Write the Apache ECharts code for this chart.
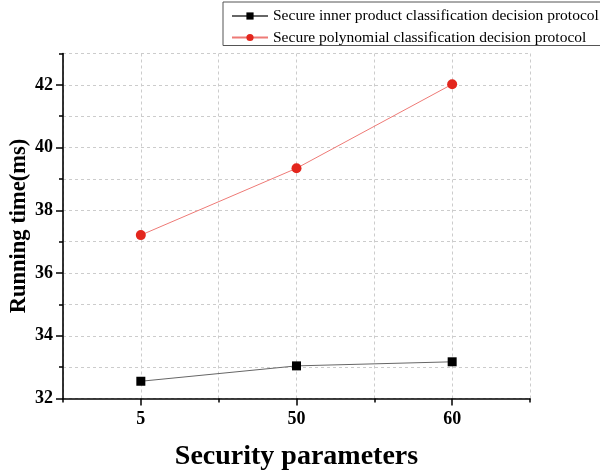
<!DOCTYPE html>
<html>
<head>
<meta charset="utf-8">
<script src="https://cdn.jsdelivr.net/npm/echarts@6/dist/echarts.min.js"></script>
<style>html,body{margin:0;padding:0;background:#fff}#c{width:600px;height:471px}</style>
</head>
<body>
<div id="c"></div>
<script>
var categories = ['5', '50', '60'];
var innerProduct = [32.55, 33.04, 33.17];
var polynomial = [37.21, 39.34, 42.02];
var yLabels = [32, 34, 36, 38, 40, 42];
var seriesNames = ['Secure inner product classification decision protocol', 'Secure polynomial classification decision protocol'];

var serif = '"Liberation Serif", "Times New Roman", serif';
var chart = echarts.init(document.getElementById('c'));
var grid = {left: 63, right: 70, top: 53.5, bottom: 72.5, outerBoundsMode: 'none', containLabel: false};
function pairs(vals){ return vals.map(function(v,i){ return [i, v]; }); }
chart.setOption({
  animation: false,
  grid: grid,
  legend: {
    left: 223, top: 2, orient: 'vertical',
    borderColor: '#555', borderWidth: 1, padding: [6, 6, 0, 8],
    itemWidth: 36, itemHeight: 9, itemGap: 5.5,
    textStyle: {fontFamily: serif, fontSize: 15.5, color: '#000'},
    data: seriesNames
  },
  xAxis: [{
    type: 'value', min: -0.5, max: 2.5, interval: 0.5,
    name: 'Security parameters', nameLocation: 'middle', nameGap: 44, nameMoveOverlap: false,
    nameTextStyle: {fontFamily: serif, fontSize: 28, fontWeight: 'bold', color: '#000'},
    axisLine: {onZero: false, lineStyle: {color: '#000', width: 1.6}},
    axisTick: {length: 4, lineStyle: {color: '#000', width: 1.5}},
    axisLabel: {customValues: [0, 1, 2], margin: 12, fontFamily: serif, fontSize: 18, fontWeight: 'bold', color: '#000',
      formatter: function(v){ return categories[Math.round(v)]; }},
    splitLine: {show: true, lineStyle: {color: '#ccc', type: [3, 3], width: 1}}
  }, {
    type: 'value', min: -0.5, max: 2.5, interval: 0.5, position: 'bottom',
    axisLine: {show: false, onZero: false},
    axisTick: {customValues: [0, 1, 2], length: 7, lineStyle: {color: '#000', width: 1.5}},
    axisLabel: {show: false}, splitLine: {show: false}
  }],
  yAxis: [{
    type: 'value', min: 32, max: 43, interval: 1,
    name: 'Running time(ms)', nameLocation: 'middle', nameGap: 32, nameMoveOverlap: false,
    nameTextStyle: {fontFamily: serif, fontSize: 22.5, fontWeight: 'bold', color: '#000'},
    axisLine: {show: true, onZero: false, lineStyle: {color: '#000', width: 1.6}},
    axisTick: {show: true, length: 4, lineStyle: {color: '#000', width: 1.5}},
    axisLabel: {customValues: yLabels, margin: 10, fontFamily: serif, fontSize: 18, fontWeight: 'bold', color: '#000'},
    splitLine: {show: true, lineStyle: {color: '#ccc', type: [3, 3], width: 1}}
  }, {
    type: 'value', min: 32, max: 43, interval: 1, position: 'left',
    axisLine: {show: false, onZero: false},
    axisTick: {show: true, customValues: yLabels, length: 7, lineStyle: {color: '#000', width: 1.5}},
    axisLabel: {show: false}, splitLine: {show: false}
  }],
  series: [{
    name: seriesNames[0], type: 'line', data: pairs(innerProduct),
    symbol: 'rect', symbolSize: 9,
    itemStyle: {color: '#000'},
    lineStyle: {color: '#666', width: 1}
  }, {
    name: seriesNames[1], type: 'line', data: pairs(polynomial),
    symbol: 'circle', symbolSize: 10,
    itemStyle: {color: '#e3261d'},
    lineStyle: {color: '#ee7a76', width: 1}
  }]
});
</script>
</body>
</html>
